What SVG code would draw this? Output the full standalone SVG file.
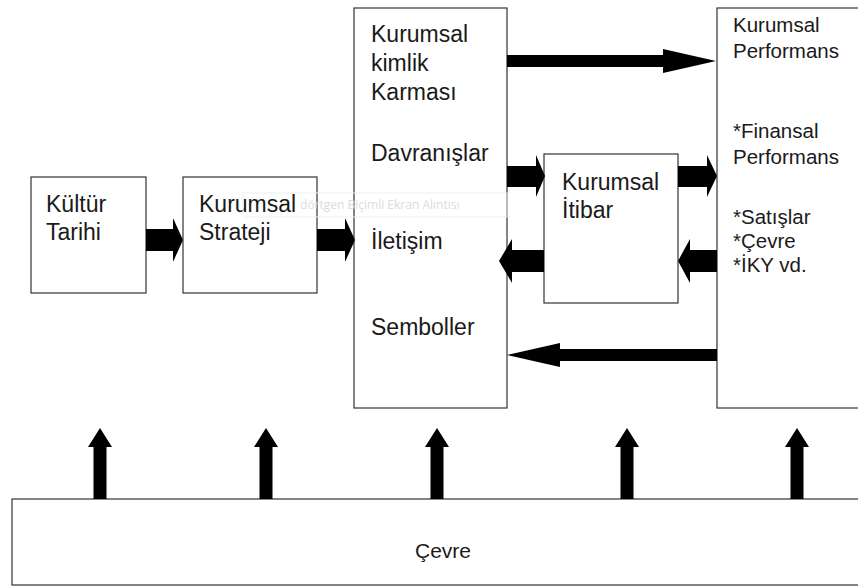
<svg xmlns="http://www.w3.org/2000/svg" width="858" height="587" viewBox="0 0 858 587">
  <style>
    .box { fill: #ffffff; stroke: #333333; stroke-width: 1.2; }
    .lbl { font-family: "Liberation Sans", Arial, sans-serif; font-size: 23px; fill: #1a1a1a; }
    .lbl-sm { font-family: "Liberation Sans", Arial, sans-serif; font-size: 20.5px; fill: #1a1a1a; }
    .arrow { fill: #000000; stroke: none; }
    .ghost { fill: none; stroke: #f0f0f0; stroke-width: 1; }
    .ghost-text { font-family: "Open Sans", "Noto Sans", sans-serif; font-size: 12px; fill: #dcdcdc; }
  </style>
  <defs>
    <!-- upward block arrow, tip at origin -->
    <polygon id="up-arrow" points="0,0 12,19 6.5,19 6.5,71 -6.5,71 -6.5,19 -12,19"/>
    <clipPath id="snip-clip">
      <rect x="301" y="190" width="210" height="30"/>
    </clipPath>
  </defs>

  <rect width="858" height="587" fill="#ffffff"/>

  <g id="node-kultur-tarihi">
    <rect class="box" x="31" y="177" width="115" height="116"/>
    <text class="lbl" x="46" y="212">Kültür</text>
    <text class="lbl" x="46" y="240">Tarihi</text>
  </g>

  <g id="node-kurumsal-strateji">
    <rect class="box" x="183" y="177" width="134" height="116"/>
    <text class="lbl" x="199" y="212">Kurumsal</text>
    <text class="lbl" x="199" y="240">Strateji</text>
  </g>

  <g id="node-kurumsal-kimlik">
    <rect class="box" x="354" y="8" width="153" height="400"/>
    <text class="lbl" x="371" y="42">Kurumsal</text>
    <text class="lbl" x="371" y="71">kimlik</text>
    <text class="lbl" x="371" y="100">Karması</text>
    <text class="lbl" x="371" y="161">Davranışlar</text>
    <text class="lbl" x="371" y="249">İletişim</text>
    <text class="lbl" x="371" y="335">Semboller</text>
  </g>

  <g id="node-kurumsal-itibar">
    <rect class="box" x="544" y="154" width="134" height="149"/>
    <text class="lbl" x="562" y="190">Kurumsal</text>
    <text class="lbl" x="562" y="218">İtibar</text>
  </g>

  <g id="node-kurumsal-performans">
    <rect class="box" x="717" y="8" width="145" height="400"/>
    <text class="lbl-sm" x="733" y="32">Kurumsal</text>
    <text class="lbl-sm" x="733" y="58">Performans</text>
    <text class="lbl-sm" x="733" y="138">*Finansal</text>
    <text class="lbl-sm" x="733" y="164">Performans</text>
    <text class="lbl-sm" x="733" y="224">*Satışlar</text>
    <text class="lbl-sm" x="733" y="248">*Çevre</text>
    <text class="lbl-sm" x="733" y="272">*İKY vd.</text>
  </g>

  <g id="node-cevre">
    <rect class="box" x="12" y="499" width="850" height="86"/>
    <text class="lbl-sm" x="443" y="558" text-anchor="middle" style="font-size:21px">Çevre</text>
  </g>

  <g id="connectors">
    <!-- horizontal flow, left to right -->
    <polygon class="arrow" points="146,229 173,229 173,218 183,240 173,262 173,251 146,251"/>
    <polygon class="arrow" points="317,229 345,229 345,218 355,240 345,262 345,251 317,251"/>
    <polygon class="arrow" points="507,55 663,55 663,49 716,61 663,73 663,67 507,67"/>
    <polygon class="arrow" points="507,166 536,166 536,155 545,176 536,197 536,187 507,187"/>
    <polygon class="arrow" points="678,166 707,166 707,155 717,176 707,197 707,187 678,187"/>
    <!-- feedback, right to left -->
    <polygon class="arrow" points="717,250 690,250 690,239 678,261 690,283 690,272 717,272"/>
    <polygon class="arrow" points="544,250 512,250 512,239 499,261 512,283 512,272 544,272"/>
    <polygon class="arrow" points="717,349 560,349 560,343 507,355 560,367 560,361 717,361"/>
    <!-- environment influences -->
    <use class="arrow" href="#up-arrow" x="100" y="428"/>
    <use class="arrow" href="#up-arrow" x="266" y="428"/>
    <use class="arrow" href="#up-arrow" x="437" y="428"/>
    <use class="arrow" href="#up-arrow" x="627" y="428"/>
    <use class="arrow" href="#up-arrow" x="797" y="428"/>
  </g>

  <g id="snip-overlay">
    <rect class="ghost" x="243" y="193" width="264" height="24"/>
    <text class="ghost-text" x="282" y="209" clip-path="url(#snip-clip)">Dikdörtgen Biçimli Ekran Alıntısı</text>
  </g>
</svg>
